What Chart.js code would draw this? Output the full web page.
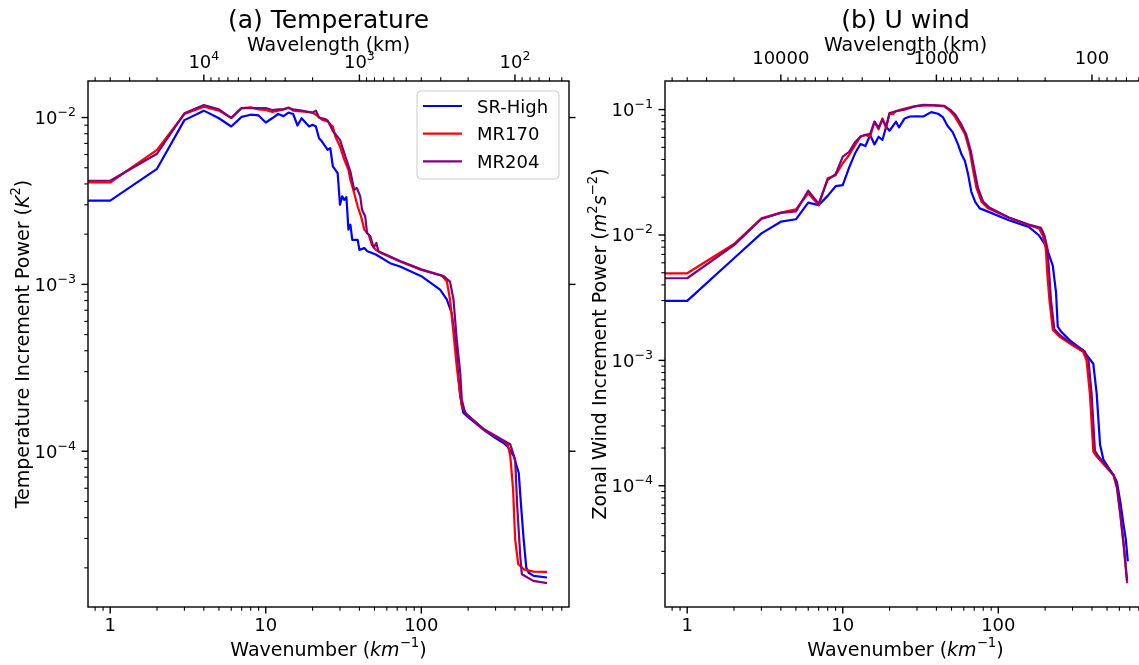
<!DOCTYPE html>
<html>
<head>
<meta charset="utf-8">
<script src="https://cdn.jsdelivr.net/npm/chart.js@4.4.0/dist/chart.umd.min.js"></script>
<style>
  html, body { margin: 0; padding: 0; background: #fff; overflow: hidden; }
  #wrap { position: relative; width: 1139px; height: 665px; overflow: hidden; }
  canvas { position: absolute; top: 0; }
  #tempChart { left: 0; }
  #windChart { left: 576px; }
</style>
</head>
<body>
<div id="wrap">
  <canvas id="tempChart" width="576" height="665"></canvas>
  <canvas id="windChart" width="580" height="665"></canvas>
</div>
<script>
// wavenumber axis, shared by both panels
const X_MIN = 0.72
const X_MAX = 890
const EARTH_KM = 40000 // wavelength (km) = EARTH_KM / wavenumber

const xTicks = [1, 10, 100]
const xTickLabels = ["1", "10", "100"]
const wavelengthTicks = [10000, 1000, 100]

const seriesNames = ["SR-High", "MR170", "MR204"]
const seriesColors = ["#0000ff", "#ff0000", "#800080"]

// (a) Temperature
const TEMP_Y_MIN = 1.165e-5
const TEMP_Y_MAX = 0.01656
const tempYTicks = [1e-2, 1e-3, 1e-4]

const tempK_sr = [0, 1, 2, 3, 4, 5, 6, 7, 8, 9, 10, 11, 12, 13, 14, 15, 16, 17, 19, 20, 21, 22, 23, 25, 26, 27, 29, 30, 31, 32, 33, 34, 35, 36, 39, 40, 43, 45, 51, 63, 73, 100, 132, 146, 157, 166, 172, 178, 186, 200, 250, 300, 338, 360, 393, 423, 438, 455, 473, 490, 528, 643]
const tempP_sr = [3.18e-3, 3.18e-3, 4.93e-3, 9.65e-3, 1.10e-2, 9.9e-3, 8.84e-3, 1.01e-2, 1.04e-2, 1.03e-2, 9.34e-3, 9.9e-3, 1.05e-2, 1.02e-2, 1.07e-2, 1.05e-2, 8.96e-3, 9.9e-3, 8.84e-3, 9.05e-3, 8.84e-3, 7.52e-3, 7.18e-3, 6.41e-3, 6.56e-3, 5.09e-3, 4.64e-3, 3.0e-3, 3.37e-3, 3.21e-3, 3.33e-3, 2.13e-3, 2.28e-3, 1.85e-3, 1.85e-3, 1.61e-3, 1.65e-3, 1.58e-3, 1.51e-3, 1.34e-3, 1.28e-3, 1.12e-3, 9.3e-4, 8.1e-4, 6.7e-4, 4.45e-4, 3.0e-4, 2.13e-4, 1.7e-4, 1.6e-4, 1.35e-4, 1.2e-4, 1.12e-4, 1.06e-4, 9.33e-5, 7.41e-5, 4.69e-5, 2.96e-5, 2.0e-5, 1.87e-5, 1.79e-5, 1.75e-5]

const tempK_170 = [0, 1, 2, 3, 4, 5, 6, 7, 8, 9, 10, 11, 12, 13, 14, 15, 17, 19, 20, 21, 23, 25, 27, 28, 30, 32, 34, 35, 37, 39, 41, 43, 46, 48, 51, 55, 73, 100, 136, 146, 153, 161, 169, 176, 182, 196, 251, 338, 359, 373, 389, 401, 420, 456, 525, 643]
const tempP_170 = [4.08e-3, 4.08e-3, 6.4e-3, 1.05e-2, 1.16e-2, 1.10e-2, 9.92e-3, 1.14e-2, 1.15e-2, 1.12e-2, 1.11e-2, 1.08e-2, 1.10e-2, 1.12e-2, 1.15e-2, 1.10e-2, 1.09e-2, 1.078e-2, 1.07e-2, 1.04e-2, 9.7e-3, 9.46e-3, 8.83e-3, 7.69e-3, 6.7e-3, 5.58e-3, 4.86e-3, 4.24e-3, 3.53e-3, 2.93e-3, 2.55e-3, 2.13e-3, 1.98e-3, 1.73e-3, 1.61e-3, 1.54e-3, 1.37e-3, 1.22e-3, 1.126e-3, 1.04e-3, 8.1e-4, 5.1e-4, 3.2e-4, 2.35e-4, 1.87e-4, 1.66e-4, 1.35e-4, 1.15e-4, 1.1e-4, 9.4e-5, 5.9e-5, 2.97e-5, 2.1e-5, 1.96e-5, 1.9e-5, 1.89e-5]

const tempK_204 = [0, 1, 2, 3, 4, 5, 6, 7, 8, 9, 10, 11, 12, 13, 14, 15, 17, 19, 20, 21, 22, 24, 25, 27, 30, 32, 35, 37, 38.5, 40.5, 41.6, 43.6, 44.8, 47, 49.4, 51.4, 53, 73, 100, 139, 153, 161, 169, 178, 182, 191, 251, 338, 373, 401, 414, 433, 443, 525, 643]
const tempP_204 = [4.18e-3, 4.18e-3, 6.07e-3, 1.06e-2, 1.19e-2, 1.12e-2, 9.95e-3, 1.14e-2, 1.14e-2, 1.14e-2, 1.14e-2, 1.11e-2, 1.12e-2, 1.12e-2, 1.14e-2, 1.12e-2, 1.10e-2, 1.08e-2, 1.07e-2, 1.10e-2, 1.0e-2, 9.8e-3, 9.6e-3, 8.3e-3, 7.35e-3, 6.1e-3, 4.75e-3, 3.69e-3, 3.78e-3, 3.37e-3, 2.8e-3, 2.55e-3, 2.03e-3, 1.94e-3, 1.66e-3, 1.77e-3, 1.58e-3, 1.38e-3, 1.23e-3, 1.12e-3, 1.04e-3, 8.1e-4, 4.66e-4, 2.94e-4, 2.04e-4, 1.7e-4, 1.36e-4, 1.16e-4, 1.1e-4, 8.9e-5, 4.6e-5, 2.33e-5, 1.83e-5, 1.67e-5, 1.62e-5]

// (b) U wind
const WIND_Y_MIN = 1.08e-5
const WIND_Y_MAX = 0.169
const windYTicks = [1e-1, 1e-2, 1e-3, 1e-4]

const windK_sr = [0, 1, 2, 3, 4, 5, 6, 7, 8, 9, 10, 11, 12, 13, 14, 15, 16, 17, 18, 19, 20, 22, 23, 25, 27, 30, 33, 37, 41, 44, 47, 51, 55, 58, 61, 64, 67, 71, 76, 86, 117, 157, 183, 202, 224, 235, 241, 254, 287, 351, 408, 429, 451, 474, 551, 579, 609, 640, 660, 680]
const windP_sr = [2.98e-3, 2.98e-3, 6.52e-3, 1.03e-2, 1.276e-2, 1.334e-2, 1.81e-2, 1.73e-2, 2.05e-2, 2.45e-2, 2.5e-2, 3.46e-2, 4.48e-2, 5.31e-2, 5.12e-2, 6.27e-2, 5.27e-2, 6.07e-2, 5.72e-2, 7.3e-2, 6.78e-2, 8.0e-2, 7.21e-2, 8.5e-2, 8.81e-2, 8.85e-2, 8.81e-2, 9.55e-2, 9.26e-2, 8.71e-2, 7.46e-2, 6.58e-2, 5.3e-2, 4.4e-2, 3.89e-2, 3.03e-2, 2.22e-2, 1.84e-2, 1.63e-2, 1.535e-2, 1.31e-2, 1.16e-2, 9.9e-3, 8.24e-3, 5.69e-3, 3.47e-3, 1.86e-3, 1.69e-3, 1.45e-3, 1.2e-3, 9.4e-4, 5.4e-4, 2.12e-4, 1.61e-4, 1.21e-4, 1.07e-4, 7.4e-5, 4.79e-5, 3.74e-5, 2.5e-5]

const windK_170 = [0, 1, 2, 3, 4, 5, 6, 7, 8, 9, 10, 11, 12, 13, 14, 15, 16, 17, 18, 19, 20, 21, 22, 25, 29, 33, 39, 45, 48.5, 52, 56, 61, 65.5, 69, 72.4, 78, 86, 117, 157, 183, 193, 202, 207, 213, 224, 247, 287, 351, 369, 388, 408, 429, 551, 579, 609, 640, 673]
const windP_170 = [4.95e-3, 4.95e-3, 8.47e-3, 1.36e-2, 1.507e-2, 1.6e-2, 2.15e-2, 1.73e-2, 2.83e-2, 3.0e-2, 3.73e-2, 4.34e-2, 5.2e-2, 6.07e-2, 6.27e-2, 6.07e-2, 8.0e-2, 6.95e-2, 8.5e-2, 7.08e-2, 9.33e-2, 9.2e-2, 9.73e-2, 1.017e-1, 1.06e-1, 1.08e-1, 1.08e-1, 1.06e-1, 9.86e-2, 8.97e-2, 7.69e-2, 6.38e-2, 4.68e-2, 3.23e-2, 2.37e-2, 1.84e-2, 1.63e-2, 1.37e-2, 1.197e-2, 1.125e-2, 9.93e-3, 7.75e-3, 4.72e-3, 3.05e-3, 1.75e-3, 1.55e-3, 1.37e-3, 1.17e-3, 1.0e-3, 5.38e-4, 1.87e-4, 1.71e-4, 1.21e-4, 9.5e-5, 5.77e-5, 3.3e-5, 1.67e-5]

const windK_204 = [0, 1, 2, 3, 4, 5, 6, 7, 8, 9, 10, 11, 12, 13, 14, 15, 16, 17, 18, 19, 20, 22, 25, 29, 33, 39, 45, 49, 53, 57.5, 62, 66.5, 70.5, 74, 80, 88, 117, 157, 188, 198, 207, 213, 218, 229, 250, 287, 360, 380, 398, 418, 440, 551, 579, 609, 640, 673]
const windP_204 = [4.52e-3, 4.52e-3, 8.3e-3, 1.34e-2, 1.5e-2, 1.54e-2, 2.26e-2, 1.78e-2, 2.75e-2, 3.05e-2, 4.21e-2, 4.6e-2, 5.5e-2, 6.1e-2, 6.3e-2, 6.4e-2, 8.0e-2, 7.2e-2, 8.3e-2, 7.4e-2, 9.4e-2, 9.7e-2, 1.0e-1, 1.06e-1, 1.09e-1, 1.08e-1, 1.07e-1, 1.0e-1, 9.1e-2, 7.7e-2, 6.4e-2, 4.7e-2, 3.23e-2, 2.37e-2, 1.84e-2, 1.65e-2, 1.38e-2, 1.21e-2, 1.14e-2, 9.9e-3, 7.75e-3, 4.72e-3, 3.05e-3, 1.78e-3, 1.58e-3, 1.4e-3, 1.18e-3, 1.0e-3, 5.4e-4, 1.9e-4, 1.72e-4, 1.22e-4, 1.0e-4, 6.0e-5, 3.4e-5, 1.75e-5]

const FONT = "'DejaVu Sans', sans-serif"
const TICK_FS = 18
const LABEL_FS = 19
const TITLE_FS = 25

// parts: [text, style]; style may hold "i" (italic) and "s" (superscript)
function drawRich(ctx, parts, x, y, size, align) {
  const fonts = parts.map(([, st]) => {
    const s = st.includes("s") ? size * 0.7 : size
    return (st.includes("i") ? "italic " : "") + s + "px " + FONT
  })
  const widths = parts.map(([t], i) => {
    ctx.font = fonts[i]
    return ctx.measureText(t).width
  })
  const total = widths.reduce((s, w) => s + w, 0)
  let cx = align === "center" ? x - total / 2 : align === "right" ? x - total : x
  ctx.textAlign = "left"
  ctx.textBaseline = "alphabetic"
  parts.forEach(([t, st], i) => {
    ctx.font = fonts[i]
    ctx.fillText(t, cx, st.includes("s") ? y - size * 0.45 : y)
    cx += widths[i]
  })
}

function powLabel(v) {
  const e = Math.round(Math.log10(v))
  return [["10", ""], [(e < 0 ? "\u2212" : "") + Math.abs(e), "s"]]
}

function minorTicks(min, max) {
  const out = []
  for (let e = Math.floor(Math.log10(min)); e <= Math.ceil(Math.log10(max)); e++) {
    for (let m = 2; m <= 9; m++) {
      const v = m * Math.pow(10, e)
      if (v >= min && v <= max) out.push(v)
    }
  }
  return out
}

function makeAxes(panel) {
  return {
    id: "mplAxes",
    afterDraw(chart) {
      const ctx = chart.ctx
      const a = chart.chartArea
      const { x, x2, y } = chart.scales
      const cx = (a.left + a.right) / 2
      const cy = (a.top + a.bottom) / 2
      ctx.save()
      ctx.fillStyle = "#000"
      ctx.strokeStyle = "#000"

      const tick = (x0, y0, x1, y1, w) => {
        ctx.lineWidth = w
        ctx.beginPath()
        ctx.moveTo(x0, y0)
        ctx.lineTo(x1, y1)
        ctx.stroke()
      }
      minorTicks(X_MIN, X_MAX).forEach(v => {
        const px = x.getPixelForValue(v)
        tick(px, a.bottom, px, a.bottom + 3.7, 1.1)
      })
      xTicks.forEach(v => {
        const px = x.getPixelForValue(v)
        tick(px, a.bottom, px, a.bottom + 6.5, 1.4)
      })
      minorTicks(x2.min, x2.max).forEach(v => {
        const px = x2.getPixelForValue(v)
        tick(px, a.top, px, a.top - 3.7, 1.1)
      })
      wavelengthTicks.forEach(v => {
        const px = x2.getPixelForValue(v)
        tick(px, a.top, px, a.top - 6.5, 1.4)
      })
      minorTicks(panel.yMin, panel.yMax).forEach(v => {
        const py = y.getPixelForValue(v)
        tick(a.left, py, a.left - 3.7, py, 1.1)
      })
      panel.yTicks.forEach(v => {
        const py = y.getPixelForValue(v)
        tick(a.left, py, a.left - 6.5, py, 1.4)
        tick(a.right, py, a.right + 6.5, py, 1.4)
      })

      ctx.lineWidth = 1.4
      ctx.strokeRect(a.left, a.top, a.right - a.left, a.bottom - a.top)

      // tick labels
      xTicks.forEach((v, i) => {
        drawRich(ctx, [[xTickLabels[i], ""]], x.getPixelForValue(v), a.bottom + 24, TICK_FS, "center")
      })
      wavelengthTicks.forEach((v, i) => {
        drawRich(ctx, panel.topLabels[i], x2.getPixelForValue(v), a.top - panel.topGap, TICK_FS, "center")
      })
      panel.yTicks.forEach(v => {
        drawRich(ctx, powLabel(v), a.left - 12, y.getPixelForValue(v) + 6.5, TICK_FS, "right")
      })

      // axis labels and title
      drawRich(ctx, [["Wavenumber (", ""], ["km", "i"], ["\u22121", "s"], [")", ""]], cx, a.bottom + 49, LABEL_FS, "center")
      drawRich(ctx, [["Wavelength (km)", ""]], cx, a.top - 30, LABEL_FS, "center")
      drawRich(ctx, [[panel.title, ""]], cx, a.top - 53, TITLE_FS, "center")
      ctx.save()
      ctx.translate(a.left - 59, cy)
      ctx.rotate(-Math.PI / 2)
      drawRich(ctx, panel.yLabel, 0, 0, LABEL_FS, "center")
      ctx.restore()

      if (panel.legend) {
        const w = 142, h = 88
        const lx = a.right - 10 - w, ly = a.top + 10
        ctx.beginPath()
        ctx.roundRect(lx, ly, w, h, 4)
        ctx.fillStyle = "rgba(255,255,255,0.8)"
        ctx.fill()
        ctx.strokeStyle = "#cccccc"
        ctx.lineWidth = 1
        ctx.stroke()
        seriesNames.forEach((name, i) => {
          const ry = ly + 15 + i * 27.7
          ctx.strokeStyle = seriesColors[i]
          ctx.lineWidth = 2.2
          ctx.beginPath()
          ctx.moveTo(lx + 6, ry)
          ctx.lineTo(lx + 45, ry)
          ctx.stroke()
          ctx.fillStyle = "#000"
          drawRich(ctx, [[name, ""]], lx + 60, ry + 6.5, TICK_FS, "left")
        })
      }
      ctx.restore()
    }
  }
}

function makeChart(canvasId, panel) {
  const datasets = panel.series.map(([ks, ps], i) => ({
    label: seriesNames[i],
    data: ks.map((k, j) => ({ x: k, y: ps[j] })),
    borderColor: seriesColors[i],
    borderWidth: 2.2,
    borderJoinStyle: "round",
    pointRadius: 0,
    pointHitRadius: 0,
    tension: 0,
    fill: false,
    order: 2 - i,
  }))

  return new Chart(document.getElementById(canvasId), {
    type: "line",
    data: { datasets },
    options: {
      responsive: false,
      animation: false,
      devicePixelRatio: 1,
      layout: { padding: panel.padding },
      plugins: {
        legend: { display: false },
        title: { display: false },
        tooltip: { enabled: false },
      },
      scales: {
        x: { type: "logarithmic", min: X_MIN, max: X_MAX, bounds: "data", display: false },
        x2: {
          type: "logarithmic",
          axis: "x",
          min: EARTH_KM / X_MAX,
          max: EARTH_KM / X_MIN,
          reverse: true,
          bounds: "data",
          display: false,
        },
        y: { type: "logarithmic", min: panel.yMin, max: panel.yMax, bounds: "data", display: false },
      },
    },
    plugins: [makeAxes(panel)],
  })
}

makeChart("tempChart", {
  title: "(a) Temperature",
  yLabel: [["Temperature Increment Power (", ""], ["K", "i"], ["2", "s"], [")", ""]],
  yMin: TEMP_Y_MIN,
  yMax: TEMP_Y_MAX,
  yTicks: tempYTicks,
  topLabels: wavelengthTicks.map(powLabel),
  topGap: 13,
  legend: true,
  padding: { left: 88, right: 7, top: 81, bottom: 58 },
  series: [[tempK_sr, tempP_sr], [tempK_170, tempP_170], [tempK_204, tempP_204]],
})

makeChart("windChart", {
  title: "(b) U wind",
  yLabel: [["Zonal Wind Increment Power (", ""], ["m", "i"], ["2", "s"], ["s", "i"], ["\u22122", "s"], [")", ""]],
  yMin: WIND_Y_MIN,
  yMax: WIND_Y_MAX,
  yTicks: windYTicks,
  topLabels: wavelengthTicks.map(v => [[String(v), ""]]),
  topGap: 17,
  legend: false,
  padding: { left: 89, right: 10, top: 81, bottom: 58 },
  series: [[windK_sr, windP_sr], [windK_170, windP_170], [windK_204, windP_204]],
})
</script>
</body>
</html>
